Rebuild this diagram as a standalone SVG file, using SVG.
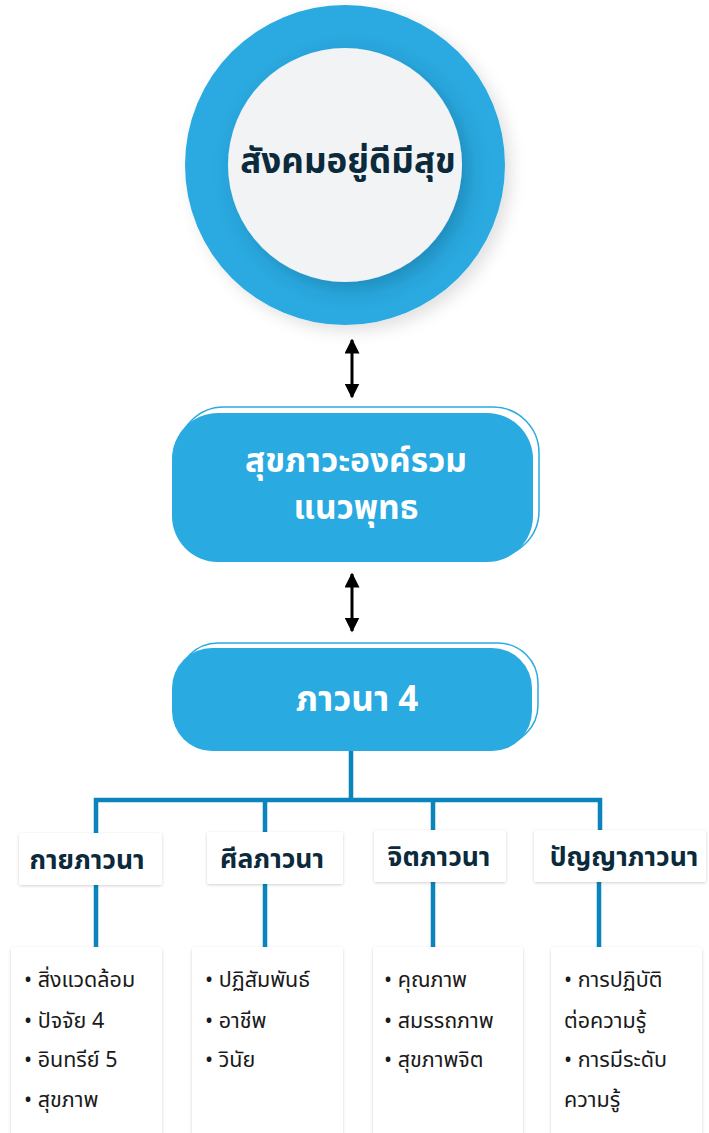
<svg xmlns="http://www.w3.org/2000/svg" width="709" height="1133" viewBox="0 0 709 1133">
<style>
.th{font-family:"Noto Sans Thai","Noto Sans","DejaVu Sans",sans-serif}
.title{font-weight:700;font-size:35px;fill:#0b2a3c}
.wt{font-weight:700;fill:#ffffff;font-size:35px}
.wt2{font-size:33.5px}
.cat{font-weight:700;font-size:26.5px;fill:#0b2a3c}
.item{font-size:21.5px;fill:#1a1a1a}
.conn{stroke:#0a84bd;stroke-width:4.5;fill:none}
.arr{stroke:#000;stroke-width:3;fill:none}
.card{fill:#ffffff;filter:url(#sh)}
.pill{fill:#29aae1}
.pillo{fill:#ffffff;stroke:#29aae1;stroke-width:1.5}
</style>
<defs>
<filter id="sh" x="-20%" y="-20%" width="140%" height="140%">
<feDropShadow dx="0" dy="1" stdDeviation="1.5" flood-color="#000" flood-opacity="0.18"/>
</filter>
<filter id="sh2" x="-20%" y="-20%" width="150%" height="150%">
<feDropShadow dx="7" dy="7" stdDeviation="10" flood-color="#0b3550" flood-opacity="0.28"/>
</filter>
<filter id="sh3" x="-20%" y="-20%" width="150%" height="150%">
<feDropShadow dx="6" dy="6" stdDeviation="8" flood-color="#000" flood-opacity="0.12"/>
</filter>
<marker id="ah" viewBox="0 0 10 10" refX="9" refY="5" markerWidth="5" markerHeight="5" orient="auto-start-reverse">
<path d="M0,0 L10,5 L0,10 z" fill="#000"/>
</marker>
</defs>

<g id="node-society">
<circle cx="345" cy="165" r="160" fill="#29aae1" filter="url(#sh3)"/>
<circle cx="345" cy="165" r="117" fill="#f2f3f5" filter="url(#sh2)"/>
<text class="th title" x="348" y="173" text-anchor="middle">สังคมอยู่ดีมีสุข</text>
</g>

<g id="connectors">
<line class="arr" x1="352" y1="340" x2="352" y2="397" marker-start="url(#ah)" marker-end="url(#ah)"/>
<line class="arr" x1="352" y1="574" x2="352" y2="631" marker-start="url(#ah)" marker-end="url(#ah)"/>
<path class="conn" d="M351,751 V800 M96,834 V800 H600 V832 M265,800 V832 M433,800 V830"/>
<path class="conn" d="M96,885 V947 M265,884 V947 M433,882 V947 M599,882 V947"/>
</g>

<g id="node-holistic">
<rect class="pillo" x="178" y="407" width="361" height="150" rx="46"/>
<rect class="pill" x="172" y="413" width="361" height="149" rx="46"/>
<text class="th wt wt2" text-anchor="middle"><tspan x="356" y="472">สุขภาวะองค์รวม</tspan><tspan x="356" y="519">แนวพุทธ</tspan></text>
</g>

<g id="node-bhavana4">
<rect class="pillo" x="178" y="643" width="360" height="102" rx="40"/>
<rect class="pill" x="172" y="648" width="360" height="103" rx="40"/>
<text class="th wt" x="357" y="711" text-anchor="middle">ภาวนา 4</text>
</g>

<g id="node-kaya">
<rect class="card" x="19" y="833" width="143" height="52" rx="2"/>
<text class="th cat" x="87" y="869" text-anchor="middle">กายภาวนา</text>
</g>
<g id="node-sila">
<rect class="card" x="207" y="832" width="136" height="52" rx="2"/>
<text class="th cat" x="272" y="868" text-anchor="middle">ศีลภาวนา</text>
</g>
<g id="node-citta">
<rect class="card" x="374" y="830" width="132" height="52" rx="2"/>
<text class="th cat" x="439" y="866" text-anchor="middle">จิตภาวนา</text>
</g>
<g id="node-panna">
<rect class="card" x="534" y="830" width="172" height="52" rx="2"/>
<text class="th cat" x="624" y="866" text-anchor="middle">ปัญญาภาวนา</text>
</g>

<g id="node-kaya-items">
<rect class="card" x="11" y="947" width="151" height="200" rx="4"/>
<text class="th item" x="24" y="987">• สิ่งแวดล้อม</text>
<text class="th item" x="24" y="1028">• ปัจจัย 4</text>
<text class="th item" x="24" y="1067">• อินทรีย์ 5</text>
<text class="th item" x="24" y="1107">• สุขภาพ</text>
</g>
<g id="node-sila-items">
<rect class="card" x="192" y="947" width="151" height="200" rx="4"/>
<text class="th item" x="205" y="987">• ปฏิสัมพันธ์</text>
<text class="th item" x="205" y="1028">• อาชีพ</text>
<text class="th item" x="205" y="1067">• วินัย</text>
</g>
<g id="node-citta-items">
<rect class="card" x="373" y="947" width="150" height="200" rx="4"/>
<text class="th item" x="384" y="987">• คุณภาพ</text>
<text class="th item" x="384" y="1028">• สมรรถภาพ</text>
<text class="th item" x="384" y="1067">• สุขภาพจิต</text>
</g>
<g id="node-panna-items">
<rect class="card" x="551" y="947" width="151" height="200" rx="4"/>
<text class="th item" x="564" y="987">• การปฏิบัติ</text>
<text class="th item" x="564" y="1028">ต่อความรู้</text>
<text class="th item" x="564" y="1067">• การมีระดับ</text>
<text class="th item" x="564" y="1107">ความรู้</text>
</g>
</svg>
